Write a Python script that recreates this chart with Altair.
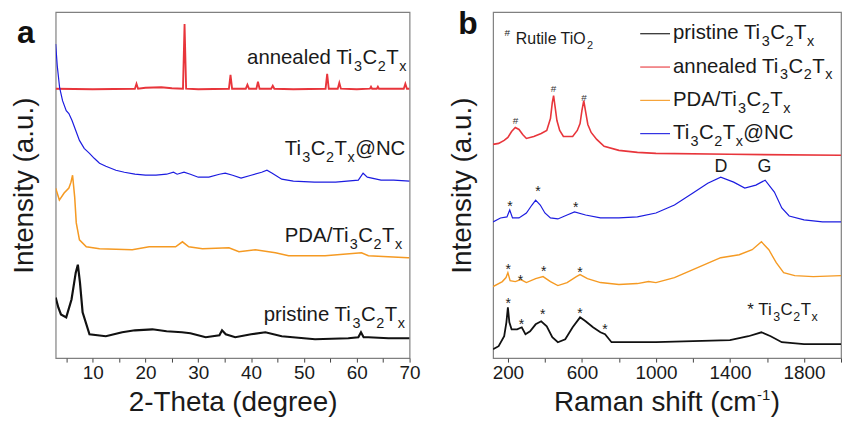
import re
import altair as alt
import pandas as pd

FONT = "Liberation Sans, Arial, DejaVu Sans, sans-serif"
SERIES = ["pristine Ti_{3}C_{2}T_{x}", "annealed Ti_{3}C_{2}T_{x}", "PDA/Ti_{3}C_{2}T_{x}", "Ti_{3}C_{2}T_{x}@NC"]
COLORS = ["#111111", "#e8353b", "#f59a23", "#1c1ce0"]

# ---------------- panel a: XRD ----------------
xrd_pristine_x = [3.0, 3.5, 4.0, 5.0, 6.0, 6.8, 7.2, 7.6, 8.1, 9.4, 12.5, 15.6, 18.0, 21.3, 24.0, 26.9, 28.5,
                  31.4, 34.0, 34.5, 35.2, 37.0, 40.0, 42.7, 45.8, 52.1, 58.4, 60.3, 60.8, 61.3, 62.2, 66.0, 70.0]
xrd_pristine_y = [62, 52, 45, 42, 60, 87, 95, 77, 47, 25, 23, 27, 29, 30, 28, 27, 26,
                  22, 24, 29, 25, 22, 25, 27, 23, 20, 21, 22, 27, 22, 22, 21, 21]
xrd_annealed_x = [3.0, 10, 18.0, 18.3, 18.6, 20, 23, 25, 27.1, 27.4, 27.7, 30, 35.8, 36.1, 36.4, 39.0, 39.3,
                  39.6, 41.0, 41.3, 41.6, 43.8, 44.1, 44.4, 48, 54.1, 54.4, 54.7, 56.4, 56.7, 57.0, 60, 62.5,
                  62.7, 62.9, 63.8, 64.0, 64.2, 68.9, 69.2, 69.5, 70]
xrd_annealed_y = [272, 271.5, 272, 277, 272, 273, 273.5, 272.5, 272, 337, 272, 271.5, 272, 286, 272, 272, 276,
                  272, 272, 279, 272, 272, 275, 272, 271.5, 272, 287, 272, 272, 278, 272, 271.5, 272,
                  274, 272, 272, 274, 272, 272, 277, 272, 272]
xrd_pda_x = [3.0, 3.7, 4.6, 5.5, 5.9, 6.2, 6.6, 6.9, 7.5, 8.8, 11.3, 17.5, 20.7, 25.7, 27.0, 28.2, 30.8,
             35.8, 37.7, 40.8, 44.6, 47.1, 54.0, 60.9, 62.2, 69.7, 70]
xrd_pda_y = [172, 160, 167, 172, 178, 185, 163, 137, 120, 113, 111, 110, 113, 113, 118, 113, 111,
             112, 108, 110, 107, 104, 104, 107, 104, 102, 102]
xrd_nc_x = [3.0, 3.3, 3.75, 4.3, 5.0, 5.5, 6.1, 6.8, 7.5, 8.4, 9.4, 10.3, 11.3, 12.5, 14.4, 16, 18, 20, 22, 24,
            25.3, 26, 27.3, 28.5, 30, 32, 34, 35.1, 36.5, 38.1, 40, 42, 43, 44, 45.8, 48, 52, 56, 60.3, 61.2,
            62, 64.6, 67, 70]
xrd_nc_y = [317, 295, 273, 260, 250, 247, 240, 230, 220, 212, 207, 202, 197, 194, 190, 188, 186, 185, 185, 186,
            188, 186, 188, 186, 183, 183, 186, 187, 185, 182, 185, 188, 190, 187, 181, 179, 178, 178, 180, 187,
            183, 180, 180, 179]

xrd_label_text = ["annealed Ti_{3}C_{2}T_{x}", "Ti_{3}C_{2}T_{x}@NC", "PDA/Ti_{3}C_{2}T_{x}", "pristine Ti_{3}C_{2}T_{x}"]
xrd_label_x = [69.5, 69.2, 68.7, 69.2]
xrd_label_y = [297, 205, 118, 38]

# ---------------- panel b: Raman ----------------
ram_pristine_x = [120, 150, 180, 192, 200, 208, 220, 250, 275, 295, 320, 350, 380, 410, 440, 470, 510, 550, 590,
                  620, 660, 700, 725, 760, 850, 1000, 1200, 1400, 1500, 1570, 1620, 1680, 1800, 2000]
ram_pristine_y = [8, 11, 21, 35, 50, 35, 28, 28, 30, 23, 26, 33, 36, 31, 20, 15, 18, 30, 40,
                  36, 30, 25, 23, 15, 15, 15, 16, 17, 21, 25, 21, 15, 13, 13]
ram_annealed_x = [120, 150, 180, 200, 220, 240, 260, 280, 300, 340, 380, 410, 430, 440, 447, 455, 465, 480, 500,
                  550, 575, 590, 600, 610, 620, 632, 650, 680, 720, 800, 900, 1000, 1400, 2000]
ram_annealed_y = [214, 215, 218, 221, 227, 231, 229, 224, 220, 222, 225, 228, 240, 256, 263, 252, 238, 228, 222,
                  222, 228, 235, 248, 258, 247, 234, 226, 219, 212, 208, 206, 205, 204, 203]
ram_pda_x = [120, 170, 190, 200, 212, 240, 270, 300, 350, 390, 430, 470, 520, 570, 590, 630, 700, 800, 900, 960,
             1000, 1100, 1200, 1300, 1350, 1450, 1520, 1570, 1610, 1650, 1690, 1750, 1850, 2000]
ram_pda_y = [71, 76, 80, 85, 77, 76, 78, 75, 79, 81, 76, 72, 75, 81, 83, 79, 75, 73, 74, 76,
             75, 80, 88, 96, 100, 103, 108, 116, 108, 95, 85, 82, 81, 82]
ram_nc_x = [120, 160, 195, 210, 225, 260, 300, 330, 350, 375, 400, 430, 470, 520, 560, 620, 700, 800, 900, 1000,
            1100, 1200, 1280, 1350, 1420, 1480, 1540, 1590, 1640, 1680, 1720, 1800, 1900, 2000]
ram_nc_y = [136, 140, 141, 148, 140, 140, 145, 153, 158, 153, 145, 140, 139, 143, 146, 143, 140, 140, 141, 145,
            153, 165, 175, 181, 176, 170, 173, 178, 166, 150, 142, 138, 136, 136]

hash_x = [241, 447, 612]
hash_y = [238, 270, 261]
star_x = [211, 363, 567, 202, 268, 393, 590, 202, 273, 388, 590, 724]
star_y = [154, 169, 153, 91, 80, 89, 88, 56, 35, 45, 46, 30]
band_text = ["D", "G"]
band_x = [1351, 1587]
band_y = [191, 191]
rutile_text = "Rutile TiO_{2}"
rutile_x = [243]
rutile_y = [315]
rutile_mark_x = [197]
rutile_mark_y = [326]
star_note_text = "* Ti_{3}C_{2}T_{x}"
star_note_x = [1494]
star_note_y = [42]
raman_title = "Raman shift (cm^{-1})"

# Arial / Liberation Sans advance widths (per 1000 em) used to lay out sub/superscripted labels
ADV = {" ": 278, "a": 556, "n": 556, "e": 556, "l": 222, "d": 556, "T": 611, "i": 222, "C": 722, "@": 1015,
       "N": 722, "P": 667, "D": 722, "A": 667, "/": 278, "p": 556, "r": 333, "s": 500, "t": 278, "x": 500,
       "O": 778, "R": 722, "u": 556, "*": 389, "#": 556, "m": 833, "h": 556, "f": 278, "(": 333, ")": 333,
       "c": 500, "-": 333, "1": 556}


def parse_rich(s):
    segs = []
    for m in re.finditer(r"_\{([^}]*)\}|\^\{([^}]*)\}|([^_^]+)", s):
        if m.group(1) is not None:
            segs.append((m.group(1), "sub"))
        elif m.group(2) is not None:
            segs.append((m.group(2), "sup"))
        else:
            segs.append((m.group(3), "n"))
    return segs


def seg_width(t, fs):
    return sum(ADV.get(c, 556) for c in t) * fs / 1000.0


def rich_text(df, x, y, s, fs, sub_fs, sub_dy, align="left", color="#1a1a1a", gap=1.0, sup_dy=0):
    segs = parse_rich(s)
    widths = [seg_width(t, fs if k == "n" else sub_fs) + (0 if k == "n" else gap) for t, k in segs]
    total = sum(widths)
    cur = -total if align == "right" else (-total / 2 if align == "center" else 0.0)
    layers = []
    for (t, k), w in zip(segs, widths):
        dy = 0 if k == "n" else (sub_dy if k == "sub" else sup_dy)
        layers.append(alt.Chart(df).mark_text(
            text=t, align="left", baseline="alphabetic", font=FONT,
            fontSize=fs if k == "n" else sub_fs, dx=cur + (0 if k == "n" else gap / 2), dy=dy,
            color=color).encode(x=x, y=y))
        cur += w
    return layers


def long_df(pairs):
    return pd.concat([pd.DataFrame({"series": n, "x": xs, "y": ys}) for n, xs, ys in pairs], ignore_index=True)


df_a = long_df([(SERIES[0], xrd_pristine_x, xrd_pristine_y), (SERIES[1], xrd_annealed_x, xrd_annealed_y),
                (SERIES[2], xrd_pda_x, xrd_pda_y), (SERIES[3], xrd_nc_x, xrd_nc_y)])
df_b = long_df([(SERIES[0], ram_pristine_x, ram_pristine_y), (SERIES[1], ram_annealed_x, ram_annealed_y),
                (SERIES[2], ram_pda_x, ram_pda_y), (SERIES[3], ram_nc_x, ram_nc_y)])

color_scale = alt.Scale(domain=SERIES, range=COLORS)
y_axis = alt.Axis(labels=False, ticks=False, domain=False, grid=False, title="Intensity (a.u.)", titlePadding=17)

# ---------------- panel a ----------------
xa = alt.X("x:Q", scale=alt.Scale(domain=[3, 70], nice=False, zero=False),
           axis=alt.Axis(values=list(range(5, 71, 5)), labelExpr="datum.value % 10 == 0 ? datum.label : ''",
                         title="2-Theta (degree)", tickSize=4, labelPadding=2, titlePadding=6,
                         labelFlush=False, labelOverlap=False, grid=False))
ya = alt.Y("y:Q", scale=alt.Scale(domain=[1, 349], nice=False, zero=False), axis=y_axis)

lines_a = alt.Chart(df_a).mark_line(clip=True).encode(
    x=xa, y=ya,
    color=alt.Color("series:N", scale=color_scale, legend=None),
    strokeWidth=alt.StrokeWidth("series:N", scale=alt.Scale(domain=SERIES, range=[2.2, 1.2, 1.2, 1.7]), legend=None),
)
layers_a = [lines_a]
for t, lx, ly in zip(xrd_label_text, xrd_label_x, xrd_label_y):
    layers_a += rich_text(pd.DataFrame({"x": [lx], "y": [ly]}), xa, ya, t, 20.5, 14.5, 7, align="right")
layers_a.append(alt.Chart(pd.DataFrame({"t": ["a"]})).mark_text(
    align="left", baseline="alphabetic", fontSize=32, fontWeight="bold", font=FONT, color="#111").encode(
    x=alt.value(-39), y=alt.value(31), text="t:N"))
panel_a = alt.layer(*layers_a).properties(width=356, height=348)

# ---------------- panel b ----------------
xb = alt.X("x:Q", scale=alt.Scale(domain=[120, 2000], nice=False, zero=False),
           axis=alt.Axis(values=list(range(200, 2001, 200)), format="d",
                         labelExpr="datum.value % 400 == 200 ? datum.label : ''",
                         title=None, tickSize=4, labelPadding=2,
                         labelFlush=False, labelOverlap=False, grid=False))
yb = alt.Y("y:Q", scale=alt.Scale(domain=[-1, 347], nice=False, zero=False), axis=y_axis)

lines_b = alt.Chart(df_b).mark_line(clip=True).encode(
    x=xb, y=yb,
    color=alt.Color("series:N", scale=color_scale, legend=None),
    strokeWidth=alt.StrokeWidth("series:N", scale=alt.Scale(domain=SERIES, range=[1.8, 1.2, 1.3, 2.4]), legend=None),
)
layers_b = [lines_b]
layers_b.append(alt.Chart(pd.DataFrame({"x": hash_x, "y": hash_y})).mark_text(
    text="#", fontSize=10, font=FONT, baseline="middle", color="#333").encode(x=xb, y=yb))
layers_b.append(alt.Chart(pd.DataFrame({"x": star_x, "y": star_y})).mark_text(
    text="*", fontSize=14, font=FONT, baseline="middle", dy=3, color="#222").encode(x=xb, y=yb))
layers_b.append(alt.Chart(pd.DataFrame({"x": band_x, "y": band_y, "t": band_text})).mark_text(
    fontSize=18, font=FONT, baseline="middle", color="#1a1a1a").encode(x=xb, y=yb, text="t:N"))
layers_b.append(alt.Chart(pd.DataFrame({"x": rutile_mark_x, "y": rutile_mark_y})).mark_text(
    text="#", fontSize=10, font=FONT, baseline="middle", color="#1a1a1a").encode(x=xb, y=yb))
layers_b += rich_text(pd.DataFrame({"x": rutile_x, "y": rutile_y}), xb, yb, rutile_text, 16, 11, 5)
layers_b += rich_text(pd.DataFrame({"x": star_note_x, "y": star_note_y}), xb, yb, star_note_text, 17, 12.5, 6)

# legend (drawn as rules + sub-scripted labels)
legend_line_y = [21.7, 55.2, 88.7, 122.2]
legend_text_y = [27.2, 60.7, 94.2, 127.7]
for i, name in enumerate(SERIES):
    one = pd.DataFrame({"k": [i]})
    layers_b.append(alt.Chart(one).mark_rule(color=COLORS[i], strokeWidth=1.1).encode(
        x=alt.value(148), x2=alt.value(178), y=alt.value(legend_line_y[i])))
    layers_b += rich_text(one, alt.value(181), alt.value(legend_text_y[i]), name, 20.5, 14.5, 7)

# x-axis title with superscript
layers_b += rich_text(pd.DataFrame({"k": [0]}), alt.value(175), alt.value(401), raman_title, 28, 15, 0,
                      align="center", gap=1.0, sup_dy=-11)

layers_b.append(alt.Chart(pd.DataFrame({"t": ["b"]})).mark_text(
    align="left", baseline="alphabetic", fontSize=32, fontWeight="bold", font=FONT, color="#111").encode(
    x=alt.value(-35), y=alt.value(22), text="t:N"))
panel_b = alt.layer(*layers_b).properties(width=350, height=348)

chart = alt.hconcat(panel_a, panel_b, spacing=26).resolve_scale(
    x="independent", y="independent", color="independent", strokeWidth="independent"
).properties(
    padding={"left": 10, "top": 6, "right": 0, "bottom": 0}
).configure_view(stroke="#808080", strokeWidth=1.2).configure_axis(
    labelFont=FONT, titleFont=FONT, labelFontSize=19, titleFontSize=28, titleFontWeight="normal",
    labelColor="#1a1a1a", titleColor="#1a1a1a", tickColor="#444", domain=False, grid=False
)

chart.save("out.html", embed_options={"renderer": "svg", "actions": False})
